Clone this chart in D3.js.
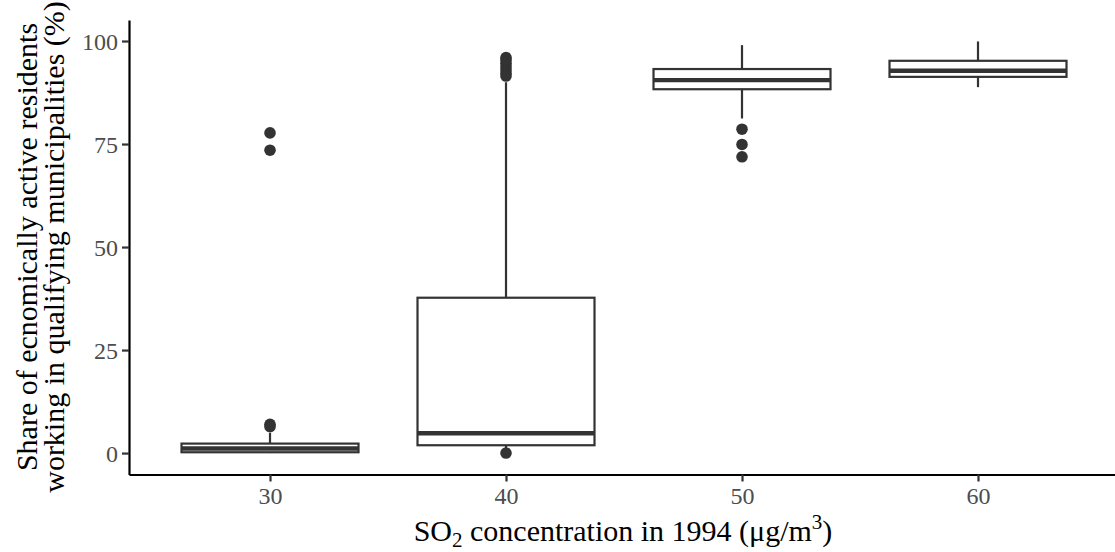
<!DOCTYPE html>
<html>
<head>
<meta charset="utf-8">
<script src="https://cdn.jsdelivr.net/npm/d3@7"></script>
<style>
  html, body { margin: 0; padding: 0; background: #fff; }
  svg { display: block; }
</style>
</head>
<body>
<script>
// ---- data ----
const categories   = [30, 40, 50, 60];
const lowWhisker   = [0.0, 0.3, 81.2, 88.8];
const q1           = [0.2, 1.9, 88.3, 91.3];
const medians      = [1.1, 4.8, 90.5, 92.8];
const q3           = [2.3, 37.7, 93.2, 95.2];
const highWhisker  = [4.9, 90.0, 99.0, 99.9];
const outlierX     = [30, 30, 30, 30, 40, 40, 40, 40, 40, 40, 40, 40, 50, 50, 50];
const outlierY     = [77.7, 73.5, 7.0, 6.4, 96.0, 95.4, 94.6, 93.8, 93.0, 92.2, 91.5, 0.0, 78.6, 74.9, 71.9];
const yTicks       = [0, 25, 50, 75, 100];
const xTicks       = [30, 40, 50, 60];
const boxWidth     = 7.5;

const W = 1115, H = 552;
const svg = d3.select("body").append("svg").attr("width", W).attr("height", H);

const x = d3.scaleLinear().domain([24.025, 65.805]).range([129, 1115]);
const y = d3.scaleLinear().domain([-5.2, 105.1]).range([474.5, 20]);

const ink = "#333333";
const serif = "'Liberation Serif', 'DejaVu Serif', serif";

// boxes
const boxes = categories.map((c, i) => ({
  c, lo: lowWhisker[i], q1: q1[i], med: medians[i], q3: q3[i], hi: highWhisker[i]
}));
const g = svg.append("g");
const bw = x(boxWidth) - x(0);

// whiskers
g.selectAll("line.wup").data(boxes).join("line")
  .attr("x1", d => x(d.c)).attr("x2", d => x(d.c))
  .attr("y1", d => y(d.q3)).attr("y2", d => y(d.hi))
  .attr("stroke", ink).attr("stroke-width", 2.2);
g.selectAll("line.wlo").data(boxes).join("line")
  .attr("x1", d => x(d.c)).attr("x2", d => x(d.c))
  .attr("y1", d => y(d.q1)).attr("y2", d => y(d.lo))
  .attr("stroke", ink).attr("stroke-width", 2.2);

// box rects
g.selectAll("rect.box").data(boxes).join("rect")
  .attr("x", d => x(d.c) - bw / 2)
  .attr("width", bw)
  .attr("y", d => y(d.q3))
  .attr("height", d => Math.max(0.5, y(d.q1) - y(d.q3)))
  .attr("fill", "#ffffff").attr("stroke", ink).attr("stroke-width", 2.2);

// medians
g.selectAll("line.med").data(boxes).join("line")
  .attr("x1", d => x(d.c) - bw / 2).attr("x2", d => x(d.c) + bw / 2)
  .attr("y1", d => y(d.med)).attr("y2", d => y(d.med))
  .attr("stroke", ink).attr("stroke-width", 4.4);

// outliers
const outs = outlierX.map((v, i) => ({ x: v, y: outlierY[i] }));
g.selectAll("circle.out").data(outs).join("circle")
  .attr("cx", d => x(d.x)).attr("cy", d => y(d.y)).attr("r", 5.8)
  .attr("fill", ink);

// axes
const yAxis = svg.append("g").attr("transform", "translate(129,0)")
  .call(d3.axisLeft(y).tickValues(yTicks).tickSize(7).tickSizeOuter(0).tickPadding(4));
const xAxis = svg.append("g").attr("transform", "translate(0,474.5)")
  .call(d3.axisBottom(x).tickValues(xTicks).tickSize(7).tickSizeOuter(0).tickPadding(5));

[yAxis, xAxis].forEach(a => {
  a.select(".domain").attr("stroke", "#000").attr("stroke-width", 2.2);
  a.selectAll(".tick line").attr("stroke", ink).attr("stroke-width", 2.2);
  a.selectAll(".tick text").attr("fill", "#4d4d4d")
    .style("font-family", serif).style("font-size", "24px");
});
yAxis.selectAll(".tick text").attr("dy", "0.34em");

// x title
const xt = svg.append("text")
  .attr("x", 623).attr("y", 541)
  .attr("text-anchor", "middle")
  .style("font-family", serif).style("font-size", "30px").attr("fill", "#000");
xt.append("tspan").text("SO");
xt.append("tspan").text("2").style("font-size", "21px").attr("dy", 6);
xt.append("tspan").text(" concentration in 1994 (μg/m").attr("dy", -6);
xt.append("tspan").text("3").style("font-size", "21px").attr("dy", -12);
xt.append("tspan").text(")").attr("dy", 12);

// y title
const yt = svg.append("text")
  .attr("transform", "translate(37,247) rotate(-90)")
  .attr("text-anchor", "middle")
  .style("font-family", serif).style("font-size", "30px").attr("fill", "#000");
yt.append("tspan").attr("x", 0).attr("y", 0).text("Share of ecnomically active residents");
yt.append("tspan").attr("x", 0).attr("y", 27).text("working in qualifying municipalities (%)");
</script>
</body>
</html>
